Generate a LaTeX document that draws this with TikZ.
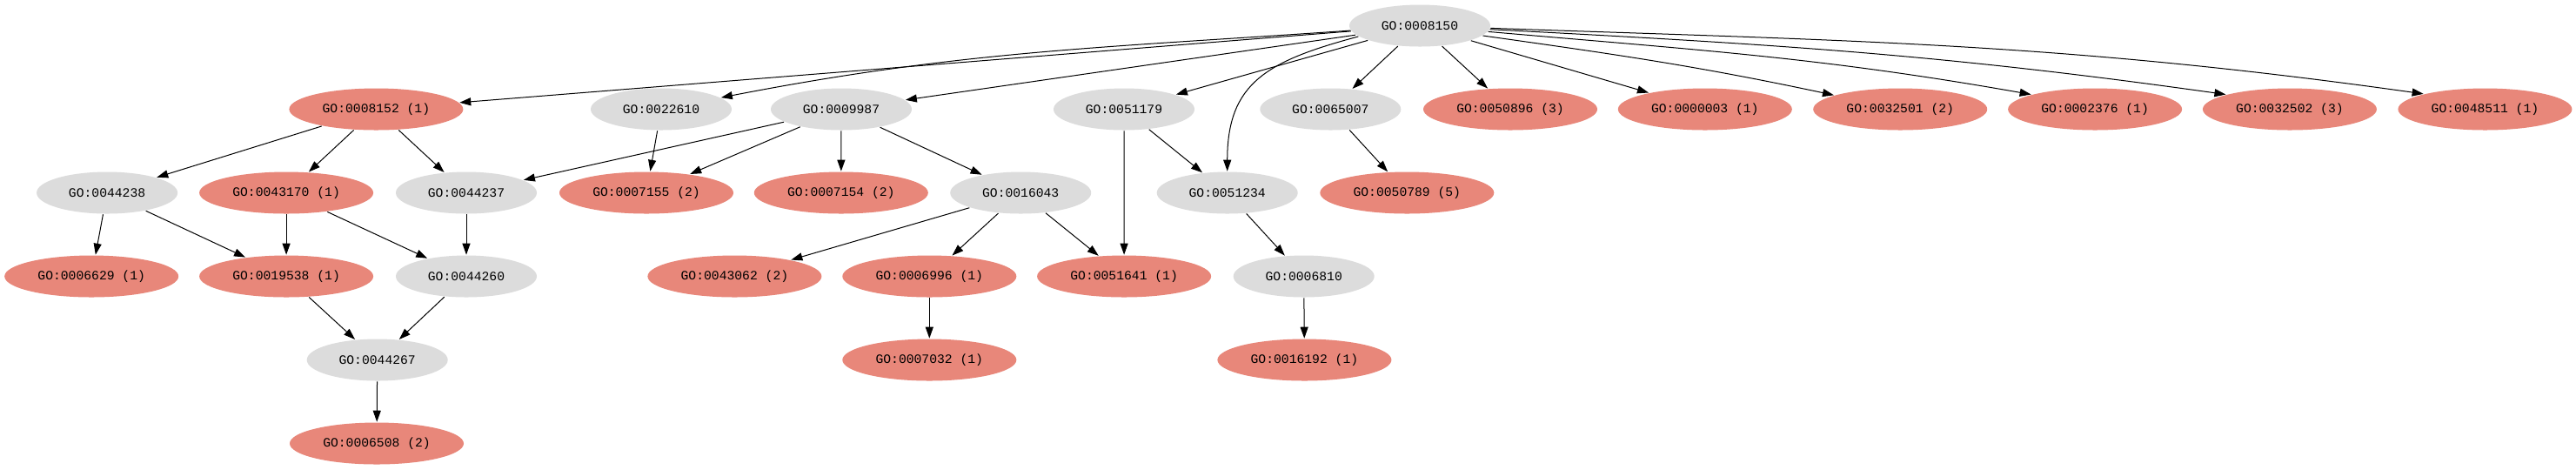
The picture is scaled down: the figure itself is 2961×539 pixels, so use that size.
\documentclass[tikz,border=0pt]{standalone}
\usepackage{fontspec}
\newfontfamily\gofont{Liberation Mono}
\usetikzlibrary{shapes.geometric,arrows.meta}
\definecolor{hitred}{HTML}{E8877A}
\definecolor{nohit}{HTML}{DCDCDC}
\begin{document}
\begin{tikzpicture}[x=0.25pt,y=0.25pt,
  font=\gofont\fontsize{3.675}{4.25}\selectfont,
  gonode/.style={ellipse, inner sep=0pt, minimum height=12pt, text=black},
  nodehit/.style={gonode, fill=hitred, minimum width=50pt},
  nodegray/.style={gonode, fill=nohit, minimum width=40.5pt},
  arr/.style={-{Triangle[length=3.25pt,width=2.25pt]}, line width=0.25pt, black}]
\fill[white] (0,0) rectangle (2961,-539);
\useasboundingbox (0,0) rectangle (2961,-539);
% row 0
\node[nodegray] (n8150) at (1632,-29.5) {GO:0008150};
% row 1
\node[nodehit]  (n8152)  at (432.4,-125.5) {GO:0008152 (1)};
\node[nodegray] (n22610) at (760,-125.5) {GO:0022610};
\node[nodegray] (n9987)  at (967,-125.5) {GO:0009987};
\node[nodegray] (n51179) at (1292,-125.5) {GO:0051179};
\node[nodegray] (n65007) at (1529.3,-125.5) {GO:0065007};
\node[nodehit]  (n50896) at (1736,-125.5) {GO:0050896 (3)};
\node[nodehit]  (n3)     at (1959.8,-125.5) {GO:0000003 (1)};
\node[nodehit]  (n32501) at (2184.2,-125.5) {GO:0032501 (2)};
\node[nodehit]  (n2376)  at (2408.1,-125.5) {GO:0002376 (1)};
\node[nodehit]  (n32502) at (2631.9,-125.5) {GO:0032502 (3)};
\node[nodehit]  (n48511) at (2856.4,-125.5) {GO:0048511 (1)};
% row 2
\node[nodegray] (n44238) at (123.1,-221.5) {GO:0044238};
\node[nodehit]  (n43170) at (329.1,-221.5) {GO:0043170 (1)};
\node[nodegray] (n44237) at (536,-221.5) {GO:0044237};
\node[nodehit]  (n7155)  at (743,-221.5) {GO:0007155 (2)};
\node[nodehit]  (n7154)  at (966.8,-221.5) {GO:0007154 (2)};
\node[nodegray] (n16043) at (1173.2,-221.5) {GO:0016043};
\node[nodegray] (n51234) at (1410.7,-221.5) {GO:0051234};
\node[nodehit]  (n50789) at (1617.3,-221.5) {GO:0050789 (5)};
% row 3
\node[nodehit]  (n6629)  at (105.2,-317.5) {GO:0006629 (1)};
\node[nodehit]  (n19538) at (329.1,-317.5) {GO:0019538 (1)};
\node[nodegray] (n44260) at (536,-317.5) {GO:0044260};
\node[nodehit]  (n43062) at (844.4,-317.5) {GO:0043062 (2)};
\node[nodehit]  (n6996)  at (1068.3,-317.5) {GO:0006996 (1)};
\node[nodehit]  (n51641) at (1292.1,-317.5) {GO:0051641 (1)};
\node[nodegray] (n6810)  at (1498.7,-317.5) {GO:0006810};
% row 4
\node[nodegray] (n44267) at (433.7,-413.5) {GO:0044267};
\node[nodehit]  (n7032)  at (1068.3,-413.5) {GO:0007032 (1)};
\node[nodehit]  (n16192) at (1499.4,-413.5) {GO:0016192 (1)};
% row 5
\node[nodehit]  (n6508)  at (433,-509.5) {GO:0006508 (2)};
% edges from root
\draw[arr] (n8150) -- (n8152);
\draw[arr] (n8150) to[out=184,in=11] (n22610);
\draw[arr] (n8150) -- (n9987);
\draw[arr] (n8150) -- (n51179);
\draw[arr] (n8150.190) to[out=195,in=90,out looseness=1.3,in looseness=1.2] (n51234.north);
\draw[arr] (n8150) -- (n65007);
\draw[arr] (n8150) -- (n50896);
\draw[arr] (n8150) -- (n3);
\draw[arr] (n8150.-9) to[out=-8,in=168] (n32501.168);
\draw[arr] (n8150.-5) to[out=-5,in=170] (n2376.167);
\draw[arr] (n8150.-3) to[out=-3,in=172] (n32502.167);
\draw[arr] (n8150.-2) to[out=-2,in=172] (n48511.166);
% other edges
\draw[arr] (n8152) -- (n44238);
\draw[arr] (n8152) -- (n43170);
\draw[arr] (n8152) -- (n44237);
\draw[arr] (n22610) -- (n7155);
\draw[arr] (n9987) -- (n44237);
\draw[arr] (n9987) -- (n7155);
\draw[arr] (n9987) -- (n7154);
\draw[arr] (n9987) -- (n16043);
\draw[arr] (n51179) -- (n51641);
\draw[arr] (n51179) -- (n51234);
\draw[arr] (n65007) -- (n50789);
\draw[arr] (n44238) -- (n6629);
\draw[arr] (n44238) -- (n19538);
\draw[arr] (n43170) -- (n19538);
\draw[arr] (n43170) -- (n44260);
\draw[arr] (n44237) -- (n44260);
\draw[arr] (n16043) -- (n43062);
\draw[arr] (n16043) -- (n6996);
\draw[arr] (n16043) -- (n51641);
\draw[arr] (n51234) -- (n6810);
\draw[arr] (n19538) -- (n44267);
\draw[arr] (n44260) -- (n44267);
\draw[arr] (n6996) -- (n7032);
\draw[arr] (n6810) -- (n16192);
\draw[arr] (n44267) -- (n6508);
\end{tikzpicture}
\end{document}
